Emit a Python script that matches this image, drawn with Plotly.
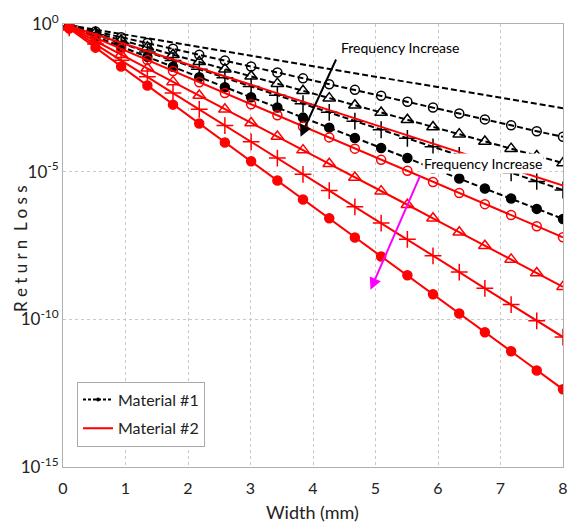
import plotly.graph_objects as go

# Width (mm) sample positions
width_mm = [0.1, 0.52, 0.93, 1.35, 1.76, 2.18, 2.59, 3.01, 3.43, 3.84,
            4.26, 4.67, 5.09, 5.51, 5.92, 6.34, 6.75, 7.17, 7.58, 8.0]
width_ends = [0.1, 8.0]

# log10(Return Loss)
m1_plain = [-0.04, -2.85]
m1_circ = [-0.05, -0.25, -0.45, -0.64, -0.84, -1.04, -1.24, -1.44, -1.64, -1.84,
           -2.04, -2.23, -2.43, -2.63, -2.83, -3.03, -3.23, -3.43, -3.63, -3.82]
m1_tri = [-0.06, -0.30, -0.55, -0.79, -1.04, -1.28, -1.53, -1.77, -2.02, -2.26,
          -2.51, -2.75, -3.00, -3.24, -3.49, -3.73, -3.98, -4.22, -4.47, -4.71]
m1_plus = [-0.07, -0.36, -0.65, -0.95, -1.24, -1.53, -1.82, -2.12, -2.41, -2.70,
           -2.99, -3.29, -3.58, -3.87, -4.16, -4.45, -4.75, -5.04, -5.33, -5.62]
m1_dot = [-0.08, -0.43, -0.77, -1.11, -1.45, -1.80, -2.14, -2.48, -2.83, -3.17,
          -3.51, -3.86, -4.20, -4.54, -4.89, -5.23, -5.57, -5.91, -6.26, -6.60]

m2_plain = [-0.07, -5.47]
m2_circ = [-0.09, -0.47, -0.84, -1.22, -1.59, -1.97, -2.34, -2.72, -3.09, -3.47,
           -3.84, -4.22, -4.60, -4.97, -5.35, -5.72, -6.10, -6.47, -6.85, -7.22]
m2_tri = [-0.11, -0.57, -1.04, -1.50, -1.96, -2.42, -2.89, -3.35, -3.81, -4.27,
          -4.73, -5.20, -5.66, -6.12, -6.58, -7.05, -7.51, -7.97, -8.43, -8.90]
m2_plus = [-0.13, -0.68, -1.23, -1.79, -2.34, -2.89, -3.44, -3.99, -4.54, -5.09,
           -5.64, -6.19, -6.74, -7.29, -7.85, -8.40, -8.95, -9.50, -10.05, -10.60]
m2_dot = [-0.15, -0.80, -1.44, -2.08, -2.73, -3.37, -4.01, -4.65, -5.30, -5.94,
          -6.58, -7.23, -7.87, -8.51, -9.15, -9.80, -10.44, -11.08, -11.73, -12.37]

x_ticks = [0, 1, 2, 3, 4, 5, 6, 7, 8]
y_tick_exp = [0, -5, -10, -15]
y_tick_text = ["10<sup>0</sup>", "10<sup>-5</sup>", "10<sup>-10</sup>", "10<sup>-15</sup>"]

FONT = "Lato, Noto Sans, Arial"
ARROW_FONT = "Liberation Sans Narrow, Lato, Arial"

def p(vals):
    return [10 ** v for v in vals]

fig = go.Figure()

def add(xs, ys, color, dash, symbol=None, size=8):
    kw = dict(x=xs, y=p(ys), showlegend=False, hoverinfo="skip",
              line=dict(color=color, width=2, dash=dash))
    if symbol is None:
        kw["mode"] = "lines"
    else:
        kw["mode"] = "lines+markers"
        kw["marker"] = dict(symbol=symbol, size=size, color=color,
                            line=dict(color=color, width=1.5))
    fig.add_trace(go.Scatter(**kw))

BLK = "black"
RED = "#ff0000"
DASH = "6px,3px"

add(width_ends, m1_plain, BLK, DASH)
add(width_mm, m1_circ, BLK, DASH, "circle-open", 9)
add(width_mm, m1_tri, BLK, DASH, "triangle-up-open", 11)
add(width_mm, m1_plus, BLK, DASH, "cross-thin-open", 12)
add(width_mm, m1_dot, BLK, DASH, "circle", 9)

add(width_ends, m2_plain, RED, "solid")
add(width_mm, m2_circ, RED, "solid", "circle-open", 9)
add(width_mm, m2_tri, RED, "solid", "triangle-up-open", 11)
add(width_mm, m2_plus, RED, "solid", "cross-thin-open", 12)
add(width_mm, m2_dot, RED, "solid", "circle", 9)

# legend entries
fig.add_trace(go.Scatter(x=[None], y=[None], mode="lines+markers", name="Material #1",
                         legendgroup="m1",
                         line=dict(color=BLK, width=2, dash="3px,2px"),
                         marker=dict(symbol="circle", size=4, color=BLK)))
fig.add_trace(go.Scatter(x=[None], y=[None], mode="lines", name="Material #2",
                         legendgroup="m2",
                         line=dict(color=RED, width=2)))

fig.update_layout(
    width=569, height=522,
    margin=dict(l=63, r=6, t=24, b=55),
    paper_bgcolor="white", plot_bgcolor="white",
    font=dict(family=FONT, size=15, color="#222"),
    legend=dict(x=0.028, y=0.193, xanchor="left", yanchor="top",
                bgcolor="white", bordercolor="#aaaaaa", borderwidth=1,
                font=dict(family=FONT, size=16, color="#222"),
                itemwidth=30, traceorder="grouped", tracegroupgap=5),
    xaxis=dict(range=[0, 8], tickvals=x_ticks, showgrid=True, automargin=False,
               gridcolor="#c8c8c8", griddash="dot", gridwidth=1,
               showline=True, linecolor="#b0b0b0", linewidth=1, mirror=True,
               zeroline=False, ticks="outside", ticklen=7, tickcolor="white",
               tickfont=dict(size=16)),
    yaxis=dict(type="log", range=[-15, 0], automargin=False,
               tickvals=[10 ** e for e in y_tick_exp], ticktext=y_tick_text,
               showgrid=True, gridcolor="#c8c8c8", griddash="dot", gridwidth=1,
               showline=True, linecolor="#b0b0b0", linewidth=1, mirror=True,
               zeroline=False, ticks="", tickfont=dict(size=17)),
)

# axis titles placed to match reference position
fig.add_annotation(x=-0.086, y=0.492, xref="paper", yref="paper", showarrow=False,
                   xanchor="center", yanchor="middle",
                   text="R e t u r n  L o s s", textangle=-90,
                   font=dict(family=FONT, size=17, color="#222"))
fig.add_annotation(x=0.498, y=-0.101, xref="paper", yref="paper", showarrow=False,
                   xanchor="center", yanchor="middle", text="Width (mm)",
                   font=dict(family=FONT, size=18, color="#222"))

# black arrow + label
fig.add_annotation(x=3.80, y=-3.82, ax=4.38, ay=-1.15, xref="x", yref="y",
                   axref="x", ayref="y", showarrow=True, arrowhead=2,
                   arrowsize=1.2, arrowwidth=2, arrowcolor="black", text="")
fig.add_annotation(x=4.42, y=-0.80, xref="x", yref="y", showarrow=False,
                   text="Frequency Increase", xanchor="left",
                   font=dict(family=ARROW_FONT, size=14, color="black"))
# magenta arrow + label
fig.add_annotation(x=4.92, y=-9.0, ax=5.72, ay=-5.11, xref="x", yref="y",
                   axref="x", ayref="y", showarrow=True, arrowhead=2,
                   arrowsize=1.2, arrowwidth=2, arrowcolor="#ff00ff", text="")
fig.add_annotation(x=5.75, y=-4.71, xref="x", yref="y", showarrow=False,
                   text="Frequency Increase", xanchor="left", bgcolor="white",
                   font=dict(family=ARROW_FONT, size=14, color="black"))

fig.write_html("out.html")
